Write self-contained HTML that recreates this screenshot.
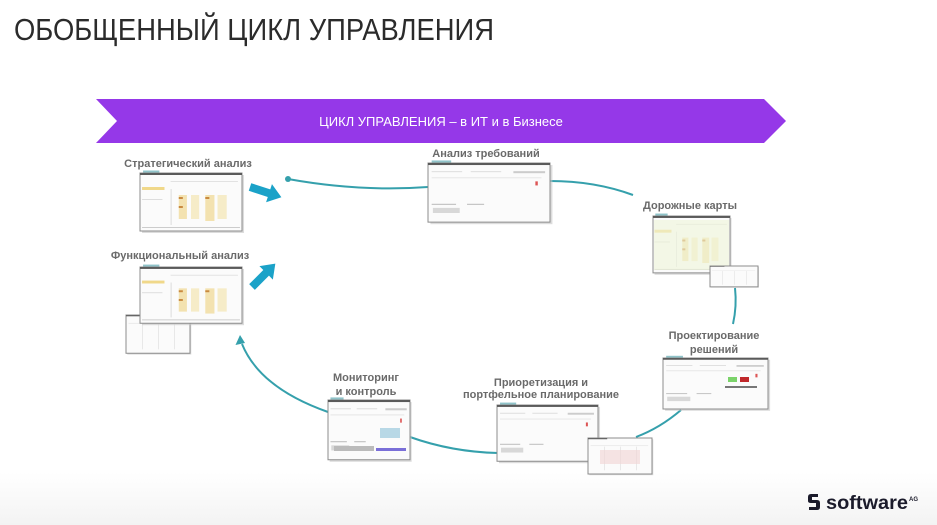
<!DOCTYPE html>
<html><head><meta charset="utf-8">
<style>
html,body{margin:0;padding:0;background:#fff;}
body{width:937px;height:525px;overflow:hidden;position:relative;font-family:"Liberation Sans","Noto Sans CJK SC",sans-serif;}
svg{position:absolute;left:0;top:0;}
</style></head>
<body>
<svg width="937" height="525" viewBox="0 0 937 525" xmlns="http://www.w3.org/2000/svg">
<defs>
<linearGradient id="bg" x1="0" y1="0" x2="0" y2="1">
<stop offset="0.9" stop-color="#ffffff"/><stop offset="1" stop-color="#f3f3f3"/>
</linearGradient>
<g id="scrY">
<rect x="2" y="2" width="100" height="58" fill="#c4c4c4" opacity="0.6"/>
<rect x="0" y="0" width="100" height="58" fill="#fbfbfb" stroke="#8c8c8c" stroke-width="1" vector-effect="non-scaling-stroke"/>
<rect x="0" y="0" width="100" height="2" fill="#5a5a5a"/>
<rect x="3" y="-2.5" width="16" height="2" fill="#8fc3c9"/>
<rect x="2" y="14" width="22" height="3" fill="#f0d88a"/>
<rect x="2" y="26" width="20" height="1" fill="#ddd"/>
<rect x="30" y="8" width="66" height="1" fill="#e2e2e2"/>
<rect x="30" y="16" width="1" height="36" fill="#ddd"/>
<rect x="38" y="22" width="8" height="24" fill="#f3e2b0"/>
<rect x="38" y="24" width="4" height="2" fill="#c98a40"/>
<rect x="38" y="33" width="4" height="2" fill="#c98a40"/>
<rect x="50" y="22" width="8" height="24" fill="#f6ecc8"/>
<rect x="64" y="22" width="9" height="26" fill="#f3e2b0"/>
<rect x="64" y="24" width="4" height="2" fill="#c98a40"/>
<rect x="76" y="22" width="9" height="24" fill="#f6ecc8"/>
<rect x="2" y="54" width="96" height="1" fill="#ccc"/>
</g>
<g id="scrP">
<rect x="2" y="2" width="100" height="58" fill="#c4c4c4" opacity="0.6"/>
<rect x="0" y="0" width="100" height="58" fill="#fbfbfb" stroke="#8c8c8c" stroke-width="1" vector-effect="non-scaling-stroke"/>
<rect x="0" y="0" width="100" height="2" fill="#5a5a5a"/>
<rect x="3" y="-2.5" width="16" height="2" fill="#8fc3c9"/>
<rect x="3" y="8" width="25" height="1" fill="#ddd"/>
<rect x="35" y="8" width="25" height="1" fill="#ddd"/>
<rect x="70" y="8" width="26" height="2" fill="#ccc"/>
<rect x="3" y="14" width="90" height="1" fill="#e6e6e6"/>
<rect x="3" y="40" width="20" height="1" fill="#bbb"/>
<rect x="32" y="40" width="14" height="1" fill="#bbb"/>
<rect x="4" y="44" width="22" height="5" fill="#d8d8d8"/>
<rect x="88" y="18" width="2" height="4" fill="#d55"/>
</g>
<g id="scrS">
<rect x="2" y="2" width="100" height="58" fill="#c4c4c4" opacity="0.6"/>
<rect x="0" y="0" width="100" height="58" fill="#fbfbfb" stroke="#8c8c8c" stroke-width="1" vector-effect="non-scaling-stroke"/>
<rect x="0" y="0" width="30" height="2" fill="#666"/>
<rect x="4" y="12" width="90" height="1" fill="#e2e2e2"/>
<rect x="25" y="14" width="1" height="38" fill="#ddd"/>
<rect x="50" y="14" width="1" height="38" fill="#ddd"/>
<rect x="75" y="14" width="1" height="38" fill="#ddd"/>
</g>
</defs>
<rect width="937" height="525" fill="url(#bg)"/>

<!-- title -->
<text x="14" y="40" font-family="Liberation Sans, sans-serif" font-size="31" fill="#2b2b2b" textLength="480" lengthAdjust="spacingAndGlyphs">ОБОБЩЕННЫЙ ЦИКЛ УПРАВЛЕНИЯ</text>

<!-- ribbon -->
<polygon points="96,99 764,99 786,121 764,143 96,143 117,121" fill="#9538e8"/>
<text x="441" y="126" text-anchor="middle" font-size="13" fill="#ffffff" font-family="Liberation Sans, sans-serif">ЦИКЛ УПРАВЛЕНИЯ – в ИТ и в Бизнесе</text>

<!-- connectors -->
<g fill="none" stroke="#35a0ac" stroke-width="2">
<path d="M288,179 Q360,192 428,187"/>
<path d="M550,181 Q595,181 633,195"/>
<path d="M735,288 Q737,306 733,324"/>
<path d="M681,410 Q660,428 636,437"/>
<path d="M498,453 Q452,452 410,437"/>
<path d="M328,412 Q260,388 242,344"/>
</g>
<circle cx="288" cy="179" r="3" fill="#35a0ac"/>
<polygon points="240,335 235.5,345 245,343" fill="#35a0ac"/>

<!-- block arrows -->
<polygon points="0,-4 20,-4 20,-9.5 33,0 20,9.5 20,4 0,4" fill="#1ba2c8" transform="translate(250,187) rotate(18)"/>
<polygon points="0,-4 20,-4 20,-9.5 33,0 20,9.5 20,4 0,4" fill="#1ba2c8" transform="translate(252,287) rotate(-45)"/>

<!-- screenshots -->
<use href="#scrY" transform="translate(140,173) scale(1.02,1)"/>
<use href="#scrS" transform="translate(126,315) scale(0.64,0.66)"/>
<use href="#scrY" transform="translate(140,267) scale(1.02,0.97)"/>
<use href="#scrP" transform="translate(428,163) scale(1.22,1.02)"/>
<use href="#scrY" transform="translate(653,216) scale(0.77,0.98)"/>
<rect x="654" y="220" width="75" height="50" fill="#eef5d8" opacity="0.6"/>
<use href="#scrS" transform="translate(710,266) scale(0.48,0.36)"/>
<use href="#scrP" transform="translate(663,358) scale(1.05,0.88)"/>
<rect x="728" y="377" width="9" height="5" fill="#7bd36a"/>
<rect x="740" y="377" width="9" height="5" fill="#c0282a"/>
<rect x="725" y="386" width="32" height="2" fill="#777"/>
<use href="#scrP" transform="translate(328,400) scale(0.82,1.03)"/>
<rect x="334" y="446" width="40" height="5" fill="#bbb"/>
<rect x="376" y="448" width="30" height="3" fill="#7a6fd8"/>
<rect x="380" y="428" width="20" height="10" fill="#b8d8e6"/>
<use href="#scrP" transform="translate(497,405) scale(1.01,0.97)"/>
<use href="#scrS" transform="translate(588,438) scale(0.64,0.62)"/>
<rect x="600" y="450" width="40" height="14" fill="#f2d4d4" opacity="0.6"/>

<!-- labels -->
<g font-family="Liberation Sans, sans-serif" font-weight="bold" font-size="11" fill="#6a6a6a" text-anchor="middle">
<text x="188" y="167">Стратегический анализ</text>
<text x="180" y="259">Функциональный анализ</text>
<text x="486" y="157">Анализ требований</text>
<text x="690" y="209">Дорожные карты</text>
<text x="714" y="339">Проектирование</text>
<text x="714" y="353">решений</text>
<text x="366" y="381">Мониторинг</text>
<text x="366" y="395">и контроль</text>
<text x="541" y="386">Приоретизация и</text>
<text x="541" y="398">портфельное планирование</text>
</g>

<!-- logo -->
<g transform="translate(808,494)">
<path d="M10,0 L3,0 Q0,0 0,3 L0,7 Q0,9 3,9 L8,9 L8,13 L1,13 L1,16 L9,16 Q12,16 12,13 L12,9 Q12,6 9,6 L4,6 L4,3 L10,3 Z" fill="#1b1b2b"/>
</g>
<text x="826" y="509" font-family="Liberation Sans, sans-serif" font-weight="bold" font-size="19" fill="#1b1b2b" textLength="82" lengthAdjust="spacingAndGlyphs">software</text>
<text x="909" y="501" font-family="Liberation Sans, sans-serif" font-weight="bold" font-size="6" fill="#1b1b2b">AG</text>
</svg>
</body></html>
